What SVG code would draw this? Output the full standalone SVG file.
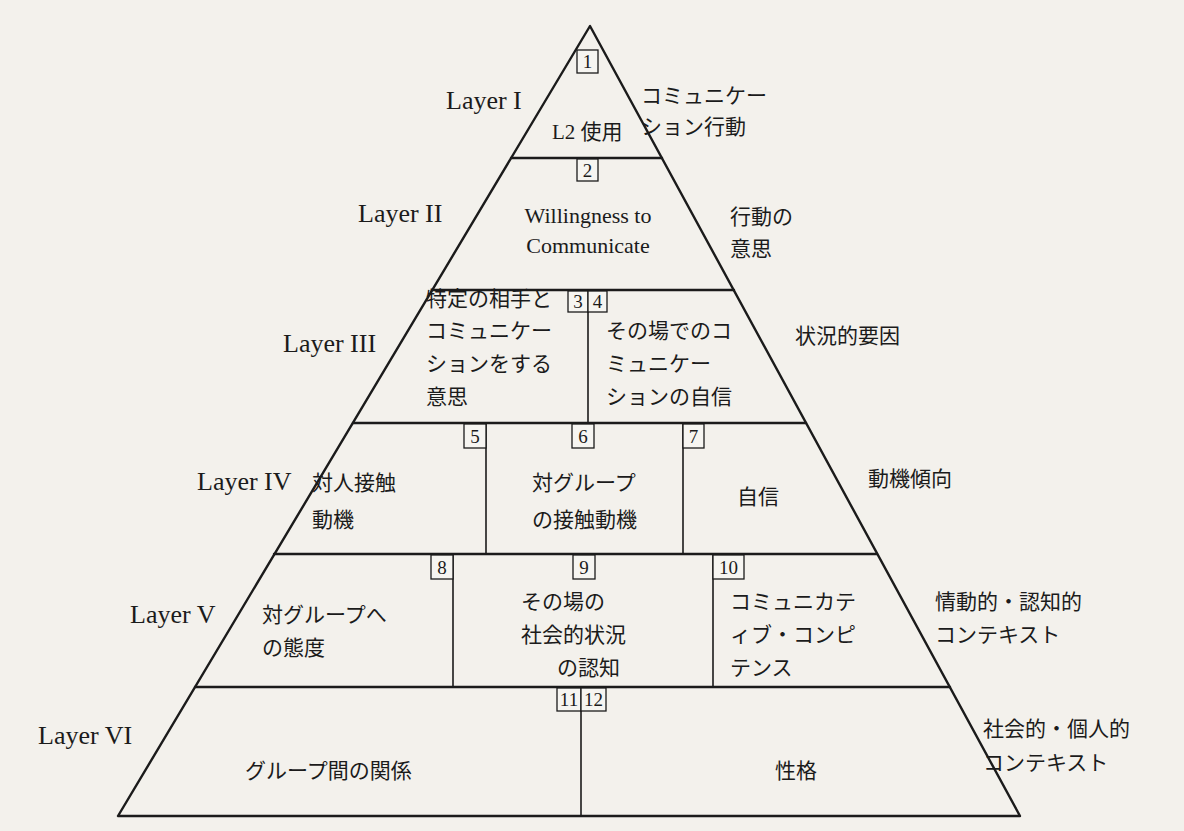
<svg xmlns="http://www.w3.org/2000/svg" width="1184" height="831" viewBox="0 0 1184 831">
<style>
.bg{fill:#f3f1ec}
.ln{stroke:#1b1b1b;stroke-width:2.4;fill:none;stroke-linecap:round;stroke-linejoin:round}
.dv{stroke:#1b1b1b;stroke-width:1.6;fill:none}
.bx{stroke:#1b1b1b;stroke-width:1.3;fill:#f6f5f1}
.num{font-family:"Liberation Serif",serif;font-size:19px;fill:#1b1b1b;text-anchor:middle}
.lay{font-family:"Liberation Serif",serif;font-size:26px;fill:#1b1b1b}
.en{font-family:"Liberation Serif",serif;font-size:22px;fill:#1b1b1b}
.jp{font-family:"Liberation Serif","Noto Sans CJK JP",sans-serif;font-size:21px;fill:#1b1b1b}
.mid{text-anchor:middle}
</style>
<rect class="bg" x="0" y="0" width="1184" height="831"/>
<g id="connectors">
<polygon class="ln" points="590,26 118,816 1020,816"/>
<line class="ln" x1="511" y1="158" x2="662" y2="158"/>
<line class="ln" x1="432" y1="290" x2="734" y2="290"/>
<line class="ln" x1="353" y1="423" x2="806" y2="423"/>
<line class="ln" x1="274" y1="554" x2="877" y2="554"/>
<line class="ln" x1="195" y1="687" x2="950" y2="687"/>
<line class="dv" x1="588" y1="290" x2="588" y2="423"/>
<line class="dv" x1="486" y1="423" x2="486" y2="554"/>
<line class="dv" x1="683" y1="423" x2="683" y2="554"/>
<line class="dv" x1="453" y1="554" x2="453" y2="687"/>
<line class="dv" x1="713" y1="554" x2="713" y2="687"/>
<line class="dv" x1="581" y1="687" x2="581" y2="816"/>
</g>
<g id="layer1">
<text class="lay" x="446" y="109">Layer I</text>
<rect class="bx" x="577" y="50" width="21" height="23"/><text class="num" x="587.5" y="68">1</text>
<text class="jp" x="552" y="139">L2 使用</text>
<text class="jp" x="641" y="103">コミュニケー</text>
<text class="jp" x="641" y="134">ション行動</text>
</g>
<g id="layer2">
<text class="lay" x="358" y="222">Layer II</text>
<rect class="bx" x="577" y="159" width="21" height="22"/><text class="num" x="587.5" y="177">2</text>
<text class="en mid" x="588" y="223">Willingness to</text>
<text class="en mid" x="588" y="253">Communicate</text>
<text class="jp" x="730" y="224">行動の</text>
<text class="jp" x="730" y="256">意思</text>
</g>
<g id="layer3">
<text class="lay" x="283" y="352">Layer III</text>
<g id="cell3">
<rect class="bx" x="568" y="291" width="20" height="21"/><text class="num" x="578" y="308">3</text>
<text class="jp" x="426" y="306">特定の相手と</text>
<text class="jp" x="426" y="338">コミュニケー</text>
<text class="jp" x="426" y="371">ションをする</text>
<text class="jp" x="426" y="404">意思</text>
</g>
<g id="cell4">
<rect class="bx" x="588" y="291" width="19" height="21"/><text class="num" x="597.5" y="308">4</text>
<text class="jp" x="606" y="338">その場でのコ</text>
<text class="jp" x="606" y="371">ミュニケー</text>
<text class="jp" x="606" y="404">ションの自信</text>
</g>
<text class="jp" x="795" y="343">状況的要因</text>
</g>
<g id="layer4">
<text class="lay" x="197" y="490">Layer IV</text>
<g id="cell5">
<rect class="bx" x="464" y="424" width="22" height="24"/><text class="num" x="475" y="443">5</text>
<text class="jp" x="312" y="490">対人接触</text>
<text class="jp" x="312" y="527">動機</text>
</g>
<g id="cell6">
<rect class="bx" x="572" y="424" width="22" height="24"/><text class="num" x="583" y="443">6</text>
<text class="jp" x="532" y="490">対グループ</text>
<text class="jp" x="532" y="527">の接触動機</text>
</g>
<g id="cell7">
<rect class="bx" x="683" y="424" width="21" height="24"/><text class="num" x="693.5" y="443">7</text>
<text class="jp" x="737" y="504">自信</text>
</g>
<text class="jp" x="868" y="486">動機傾向</text>
</g>
<g id="layer5">
<text class="lay" x="130" y="623">Layer V</text>
<g id="cell8">
<rect class="bx" x="431" y="555" width="22" height="24"/><text class="num" x="442" y="574">8</text>
<text class="jp" x="262" y="622">対グループへ</text>
<text class="jp" x="262" y="655">の態度</text>
</g>
<g id="cell9">
<rect class="bx" x="573" y="555" width="22" height="24"/><text class="num" x="584" y="574">9</text>
<text class="jp" x="521" y="609">その場の</text>
<text class="jp" x="521" y="642">社会的状況</text>
<text class="jp" x="557" y="675">の認知</text>
</g>
<g id="cell10">
<rect class="bx" x="713" y="555" width="31" height="24"/><text class="num" x="728.5" y="574">10</text>
<text class="jp" x="730" y="609">コミュニカテ</text>
<text class="jp" x="730" y="642">ィブ・コンピ</text>
<text class="jp" x="730" y="675">テンス</text>
</g>
<text class="jp" x="935" y="609">情動的・認知的</text>
<text class="jp" x="935" y="642">コンテキスト</text>
</g>
<g id="layer6">
<text class="lay" x="38" y="744">Layer VI</text>
<g id="cell11">
<rect class="bx" x="557" y="688" width="24" height="23"/><text class="num" x="569" y="706">11</text>
<text class="jp" x="245" y="778">グループ間の関係</text>
</g>
<g id="cell12">
<rect class="bx" x="581" y="688" width="25" height="23"/><text class="num" x="593.5" y="706">12</text>
<text class="jp" x="775" y="778">性格</text>
</g>
<text class="jp" x="983" y="736">社会的・個人的</text>
<text class="jp" x="983" y="770">コンテキスト</text>
</g>
</svg>
